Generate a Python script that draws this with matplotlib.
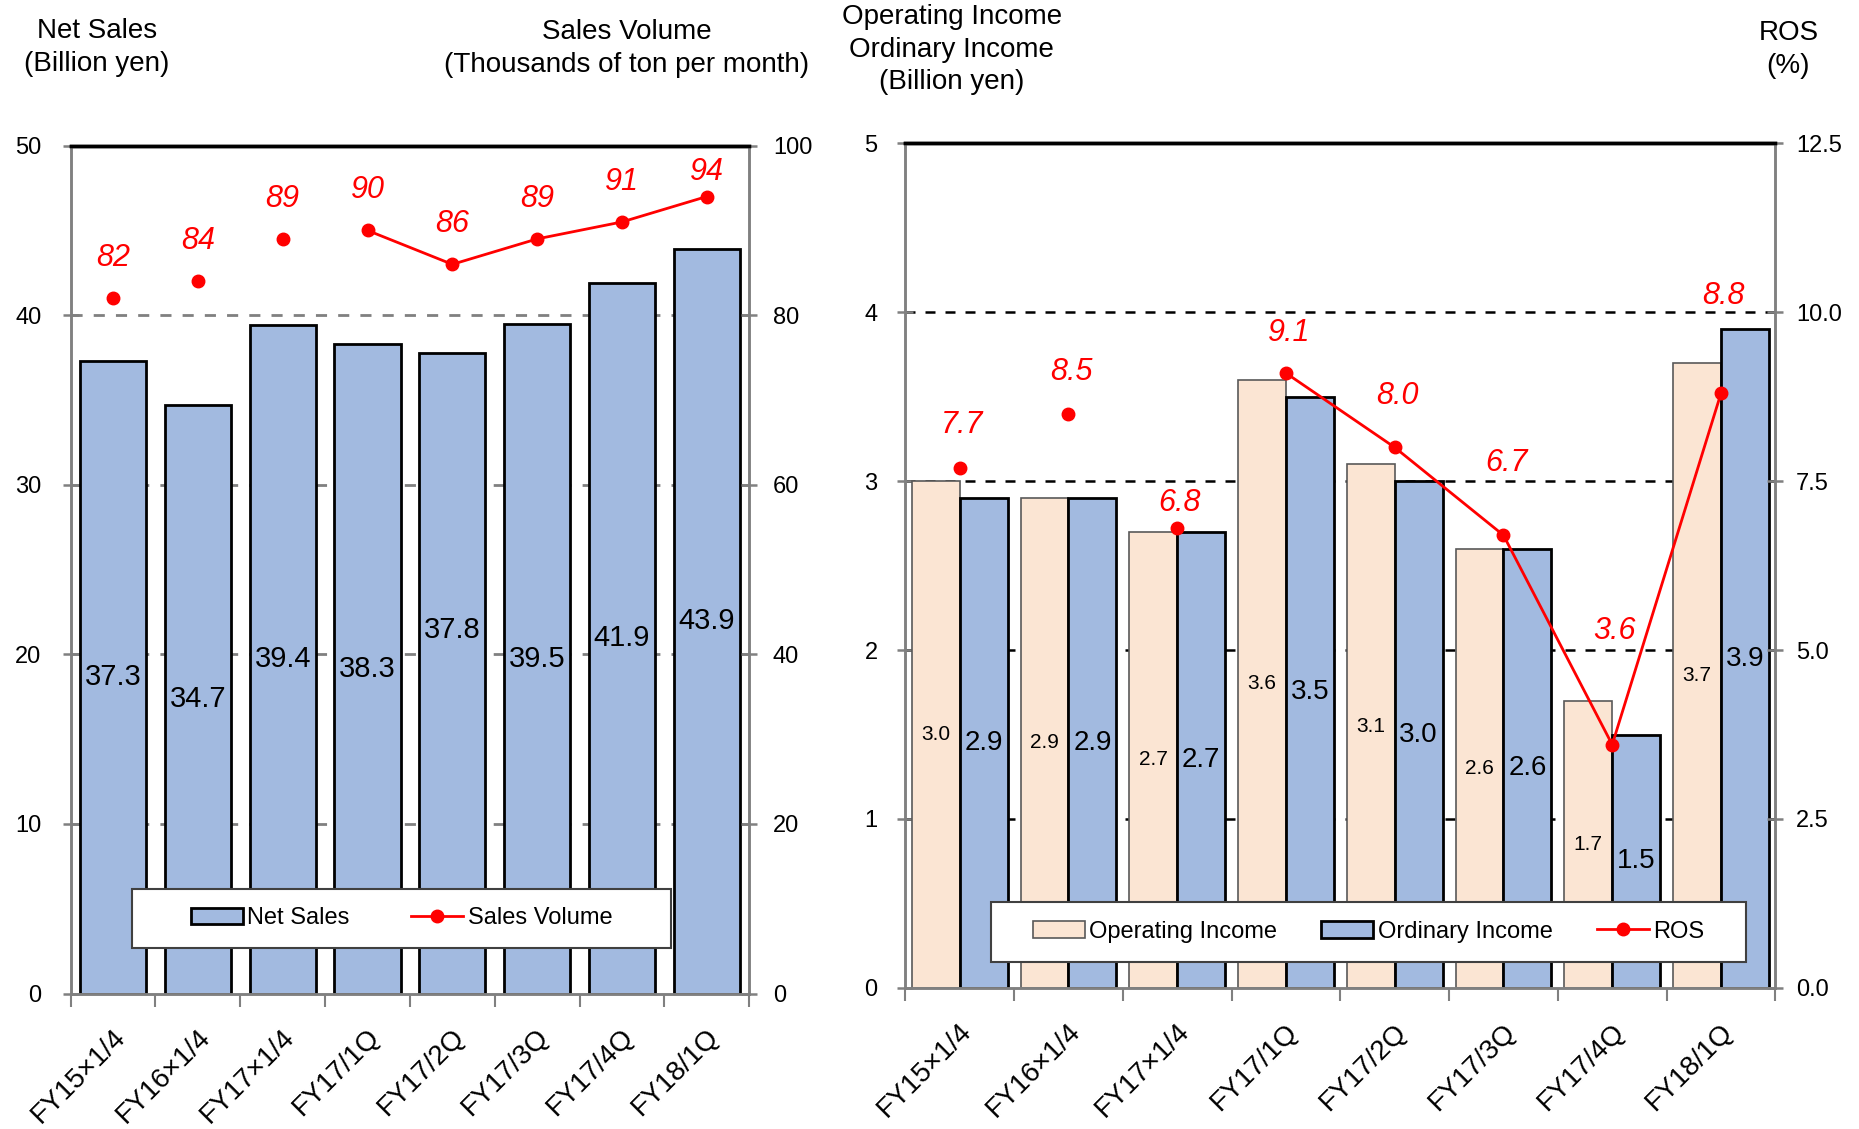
import numpy as np
import matplotlib.pyplot as plt
from matplotlib.patches import Patch, Rectangle
from matplotlib.lines import Line2D
import matplotlib.transforms as mtransforms

plt.rcParams['font.family'] = ['Liberation Sans', 'DejaVu Sans']

# data
periods = ['FY15×1/4', 'FY16×1/4', 'FY17×1/4', 'FY17/1Q', 'FY17/2Q', 'FY17/3Q', 'FY17/4Q', 'FY18/1Q']
net_sales = [37.3, 34.7, 39.4, 38.3, 37.8, 39.5, 41.9, 43.9]
sales_volume = [82, 84, 89, 90, 86, 89, 91, 94]
operating_income = [3.0, 2.9, 2.7, 3.6, 3.1, 2.6, 1.7, 3.7]
ordinary_income = [2.9, 2.9, 2.7, 3.5, 3.0, 2.6, 1.5, 3.9]
ros = [7.7, 8.5, 6.8, 9.1, 8.0, 6.7, 3.6, 8.8]
n_annual = 3  # first three points are annual averages, not joined by the line

BLUE = '#A2BAE0'
PEACH = '#FBE5D3'
RED = '#FF0000'
GRAY = '#808080'

fig = plt.figure(figsize=(18.59, 11.29), dpi=100)
x = np.arange(len(periods))


def style_xaxis(ax):
    ax.set_xlim(-0.5, len(periods) - 0.5)
    ax.set_xticks(x)
    ax.set_xticks(np.arange(len(periods) + 1) - 0.5, minor=True)
    ax.set_xticklabels(periods, rotation=45, ha='right', va='top',
                       rotation_mode='anchor', fontsize=20)
    ax.tick_params(axis='x', which='major', length=0, pad=22)
    ax.tick_params(axis='x', which='minor', length=9, width=1.5,
                   color=GRAY, direction='out')
    off = mtransforms.ScaledTranslation(-0.01, 0, fig.dpi_scale_trans)
    for lab in ax.get_xticklabels():
        lab.set_transform(lab.get_transform() + off)


def style_spines(ax):
    for s in ['left', 'right', 'bottom']:
        ax.spines[s].set_color(GRAY)
        ax.spines[s].set_linewidth(1.8)
    ax.spines['top'].set_color('black')
    ax.spines['top'].set_linewidth(2.5)


# ---------- left chart ----------
ax1 = fig.add_axes([0.038, 0.120, 0.365, 0.751])
ax1.set_ylim(0, 50)
ax1.set_yticks(np.arange(0, 51, 10))
for v in [10, 20, 30, 40]:
    ax1.axhline(v, color=GRAY, lw=2, ls=(0, (4, 4)), zorder=1)
ax1.bar(x, net_sales, width=0.78, color=BLUE, edgecolor='black', lw=2, zorder=2)
net_dy = [0, 0, 0, 0, 31, 0, 0, 0]
for xi, v, dy in zip(x, net_sales, net_dy):
    ax1.annotate(f'{v:.1f}', (xi, v / 2), xytext=(0, dy), textcoords='offset points',
                 ha='center', va='center', fontsize=21, zorder=3)
style_xaxis(ax1)
style_spines(ax1)
ax1.tick_params(axis='y', direction='inout', length=12, width=1.8, color=GRAY,
                labelsize=17, pad=15)

ax2 = ax1.twinx()
ax2.set_ylim(0, 100)
ax2.set_yticks(np.arange(0, 101, 20))
ax2.tick_params(axis='y', direction='inout', length=12, width=1.8, color=GRAY,
                labelsize=17, pad=11)
ax2.plot(x[n_annual:], sales_volume[n_annual:], color=RED, lw=2)
ax2.plot(x, sales_volume, 'o', color=RED, ms=9)
vol_dy = [29, 29, 29, 29, 29, 29, 29, 18]
for xi, v, dy in zip(x, sales_volume, vol_dy):
    ax2.annotate(f'{v}', (xi, v), xytext=(0, dy), textcoords='offset points',
                 ha='center', va='center', color=RED, fontsize=22, style='italic')
style_spines(ax2)

ax1.add_patch(Rectangle((0.09, 0.054), 0.795, 0.069, transform=ax1.transAxes,
                        facecolor='white', edgecolor='#404040', lw=1.5, zorder=4))
h1 = [Patch(facecolor=BLUE, edgecolor='black', lw=2),
      Line2D([], [], color=RED, lw=2, marker='o', ms=9)]
leg1 = ax1.legend(h1, ['Net Sales', 'Sales Volume'], ncol=2, loc='center',
                  bbox_to_anchor=(0.09 + 0.795 / 2, 0.054 + 0.069 / 2),
                  frameon=False, fontsize=17, handlelength=2.2,
                  handletextpad=0.2, columnspacing=2.6)
leg1.set_zorder(5)

fig.text(0.052, 0.958, 'Net Sales\n(Billion yen)', ha='center', va='center',
         fontsize=20, linespacing=1.32)
fig.text(0.337, 0.957, 'Sales Volume\n(Thousands of ton per month)', ha='center',
         va='center', fontsize=20, linespacing=1.32)

# ---------- right chart ----------
ax3 = fig.add_axes([0.487, 0.125, 0.468, 0.748])
ax3.set_ylim(0, 5)
ax3.set_yticks(np.arange(0, 6, 1))
for v in [1, 2, 3, 4]:
    ax3.axhline(v, color='black', lw=1.8, ls=(0, (4, 4)), zorder=1)
w = 0.44
ax3.bar(x - w / 2, operating_income, width=w, color=PEACH, edgecolor='#595959',
        lw=1.2, zorder=2)
ax3.bar(x + w / 2, ordinary_income, width=w, color=BLUE, edgecolor='black',
        lw=2, zorder=2)
for xi, a, b in zip(x, operating_income, ordinary_income):
    ax3.text(xi - w / 2, a / 2, f'{a:.1f}', ha='center', va='center', fontsize=15, zorder=3)
    ax3.text(xi + w / 2, b / 2, f'{b:.1f}', ha='center', va='center', fontsize=20, zorder=3)
style_xaxis(ax3)
style_spines(ax3)
ax3.tick_params(axis='y', direction='inout', length=12, width=1.8, color=GRAY,
                labelsize=17, pad=14)

ax4 = ax3.twinx()
ax4.set_ylim(0, 12.5)
ax4.set_yticks(np.arange(0, 12.6, 2.5))
ax4.set_yticklabels([f'{t:.1f}' for t in np.arange(0, 12.6, 2.5)])
ax4.tick_params(axis='y', direction='inout', length=12, width=1.8, color=GRAY,
                labelsize=17, pad=9)
ax4.plot(x[n_annual:], ros[n_annual:], color=RED, lw=2)
ax4.plot(x, ros, 'o', color=RED, ms=9)
ros_dy = [31, 30, 18, 29, 37, 52, 82, 70]
for xi, v, dy in zip(x, ros, ros_dy):
    ax4.annotate(f'{v:.1f}', (xi, v), xytext=(2, dy), textcoords='offset points',
                 ha='center', va='center', color=RED, fontsize=22, style='italic')
style_spines(ax4)

ax3.add_patch(Rectangle((0.099, 0.031), 0.867, 0.071, transform=ax3.transAxes,
                        facecolor='white', edgecolor='#404040', lw=1.5, zorder=4))
h2 = [Patch(facecolor=PEACH, edgecolor='#595959', lw=1.2),
      Patch(facecolor=BLUE, edgecolor='black', lw=2),
      Line2D([], [], color=RED, lw=2, marker='o', ms=9)]
leg2 = ax3.legend(h2, ['Operating Income', 'Ordinary Income', 'ROS'], ncol=3,
                  loc='center', bbox_to_anchor=(0.099 + 0.867 / 2, 0.031 + 0.071 / 2),
                  frameon=False, fontsize=17, handlelength=2.2,
                  handletextpad=0.2, columnspacing=1.86)
leg2.set_zorder(5)

fig.text(0.512, 0.956, 'Operating Income\nOrdinary Income\n(Billion yen)', ha='center',
         va='center', fontsize=20, linespacing=1.32)
fig.text(0.962, 0.956, 'ROS\n(%)', ha='center', va='center', fontsize=20,
         linespacing=1.32)

fig.savefig('out.png', dpi=100)
